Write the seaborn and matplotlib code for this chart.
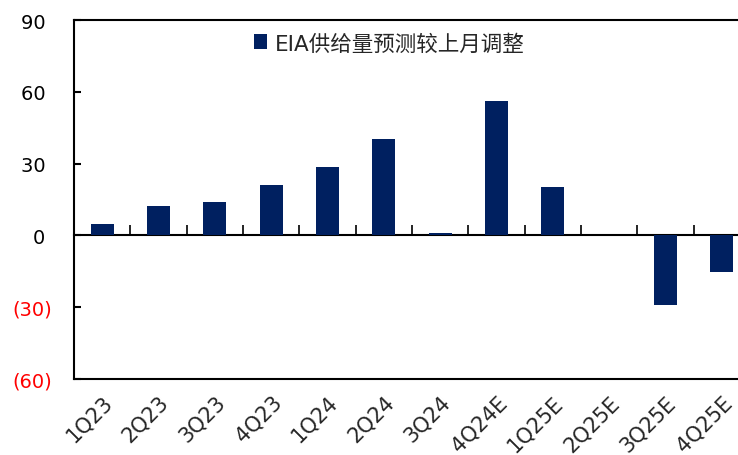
import numpy as np
import pandas as pd
import seaborn as sns
import matplotlib.pyplot as plt

# data
quarters = ["1Q23", "2Q23", "3Q23", "4Q23", "1Q24", "2Q24", "3Q24",
            "4Q24E", "1Q25E", "2Q25E", "3Q25E", "4Q25E"]
revisions = [4.7, 12.1, 13.8, 21.0, 28.7, 40.3, 0.8, 56.2, 20.3, 0.0, -28.9, -15.3]
series_name = "EIA供给量预测较上月调整"

yticks = [-60, -30, 0, 30, 60, 90]
ytick_labels = ["(60)", "(30)", "0 ", "30 ", "60 ", "90 "]
ytick_colors = ["red", "red", "black", "black", "black", "black"]

df = pd.DataFrame({"quarter": quarters, "value": revisions})

sns.set_style("white")
plt.rcParams["font.family"] = ["DejaVu Sans", "Noto Sans CJK SC"]

fig = plt.figure(figsize=(7.38, 4.56), dpi=100)
ax = fig.add_axes([74 / 738, 1 - 380 / 456, (750 - 74) / 738, (380 - 21) / 456])

sns.barplot(data=df, x="quarter", y="value", color="#002060", width=0.41,
            saturation=1, linewidth=0, label=series_name, ax=ax, zorder=2)

ax.set_ylim(-60, 90)
ax.set_xlim(-0.5, len(quarters) - 0.5)
ax.set_xlabel("")
ax.set_ylabel("")

# y labels: red bracketed negatives
ax.set_yticks(yticks)
ax.set_yticklabels(ytick_labels)
ax.tick_params(axis="y", length=0, pad=16, labelsize=14)
for lbl, c in zip(ax.get_yticklabels(), ytick_colors):
    lbl.set_color(c)

# short inward tick marks on the left spine
ax.hlines(yticks, 0, 0.011, transform=ax.get_yaxis_transform(),
          colors="black", linewidth=1.5, zorder=5, clip_on=False)

# x axis labels along the bottom frame
ax.tick_params(axis="x", length=0, pad=9, labelsize=15)
plt.setp(ax.get_xticklabels(), rotation=45, ha="right", rotation_mode="anchor")

for side in ["left", "top", "bottom"]:
    ax.spines[side].set_visible(True)
    ax.spines[side].set_color("black")
    ax.spines[side].set_linewidth(1.5)
ax.spines["right"].set_visible(False)

# zero line with category boundary ticks
zero_frac = (0 - yticks[0]) / (yticks[-1] - yticks[0])
zax = ax.secondary_xaxis(zero_frac)
zax.set_xticks(np.arange(len(quarters)) + 0.5)
zax.set_xticklabels([])
zax.tick_params(axis="x", direction="in", length=7, width=1.2, bottom=True,
                color="black")
zax.spines["bottom"].set_linewidth(1.5)
zax.spines["bottom"].set_color("black")

leg = ax.legend(loc="upper left", bbox_to_anchor=(0.253, 0.988), frameon=False,
                fontsize=15.5, handlelength=0.6, handleheight=0.7,
                handletextpad=0.4, borderaxespad=0)

fig.savefig("out.png", dpi=100)
